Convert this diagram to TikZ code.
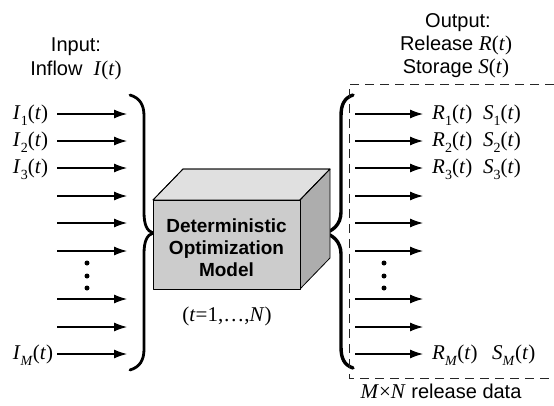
\documentclass[tikz,border=0pt]{standalone}
\usepackage{fontspec}
\setmainfont{Liberation Sans}
\newfontfamily\tnr{Liberation Serif}
\usetikzlibrary{arrows.meta}
% function labels such as I_1(t), R_M(t)
\newcommand\fnlab[2]{{\tnr\fontsize{21}{21}\selectfont\textit{#1}\raisebox{-0.3em}{\fontsize{14}{14}\selectfont #2}(\textit{t})}}
\newcommand\fnplain[1]{{\tnr\fontsize{21}{21}\selectfont\textit{#1}(\textit{t})}}
\begin{document}
\begin{tikzpicture}[x=1pt,y=-1pt,
  flow/.style={line width=1.1pt,-{Latex[length=13pt,width=9pt]}},
  bracepath/.style={line width=2.8pt,line cap=round},
  dashbox/.style={dash pattern=on 9pt off 6pt,line width=0.9pt,black!85},
  txt/.style={font=\fontsize{20}{24}\selectfont,inner sep=0pt},
  lab/.style={inner sep=0pt,anchor=base},
  dotmark/.style={fill=black,circle,inner sep=0pt,minimum size=5pt},
  face/.style={draw=black,line width=0.8pt,line join=round}]
\useasboundingbox (0,0) rectangle (554,405);

% headings
\node[txt,anchor=base] (inT1) at (76,51) {Input:};
\node[txt,anchor=base] (inT2) at (76,75) {Inflow\ \ \fnplain{I}};
\node[txt,anchor=base] (outT1) at (458,27) {Output:};
\node[txt,anchor=base] (outT2) at (456,50) {Release \fnplain{R}};
\node[txt,anchor=base] (outT3) at (456,73) {Storage \fnplain{S}};

% input and output arrows
\foreach \i/\y in {1/114,2/141,3/168,4/196,5/223,6/251,7/299,8/327,9/354}{
  \coordinate (ls\i) at (57,\y);
  \coordinate (le\i) at (127,\y);
  \draw[flow] (ls\i) -- (le\i);
  \coordinate (rs\i) at (355,\y);
  \coordinate (re\i) at (423,\y);
  \draw[flow] (rs\i) -- (re\i);
}

% input labels
\node[lab] (lI1) at (30.5,119) {\fnlab{I}{1}};
\node[lab] (lI2) at (30.5,146) {\fnlab{I}{2}};
\node[lab] (lI3) at (30.5,173) {\fnlab{I}{3}};
\node[lab] (lIM) at (33,359) {\fnlab{I}{\textit{M}}};

% output labels
\node[lab,anchor=base west] (lR1) at (432,119) {\fnlab{R}{1}};
\node[lab,anchor=base west] (lS1) at (483,119) {\fnlab{S}{1}};
\node[lab,anchor=base west] (lR2) at (432,146) {\fnlab{R}{2}};
\node[lab,anchor=base west] (lS2) at (483,146) {\fnlab{S}{2}};
\node[lab,anchor=base west] (lR3) at (432,173) {\fnlab{R}{3}};
\node[lab,anchor=base west] (lS3) at (483,173) {\fnlab{S}{3}};
\node[lab,anchor=base west] (lRM) at (432,359) {\fnlab{R}{\textit{M}}};
\node[lab,anchor=base west] (lSM) at (492,359) {\fnlab{S}{\textit{M}}};

% vertical ellipsis dots
\foreach \k/\y in {1/263,2/276,3/288}{
  \node[dotmark] (dl\k) at (87,\y) {};
  \node[dotmark] (dr\k) at (384,\y) {};
}

% left brace
\draw[bracepath] (130,95) .. controls (140,98) and (144,105) .. (144,116)
  -- (144,212) .. controls (144,225) and (147,231) .. (153,233)
  .. controls (147,235) and (144,241) .. (144,254)
  -- (144,349) .. controls (144,360) and (140,367) .. (130,370);

% right brace
\draw[bracepath,line width=3.4pt] (353,95) .. controls (344,98) and (341,105) .. (341,116)
  -- (341,212) .. controls (341,225) and (332,231) .. (325,233)
  .. controls (332,235) and (341,241) .. (341,254)
  -- (341,347) .. controls (341,358) and (344,365) .. (353,368);

% output dashed frame
\draw[dashbox] (554,84) -- (349,84) -- (349,378) -- (554,378);

% the model block
\fill[face,fill=black!12] (153,200) -- (183,169) -- (330,169) -- (300,200) -- cycle;
\draw[face,fill=black!32] (300,200) -- (330,169) -- (330,258) -- (300,289) -- cycle;
\draw[face,fill=black!20] (153,200) rectangle (300,289);
\draw[face] (153,200) -- (183,169) -- (330,169) -- (300,200);
\node[inner sep=0pt,align=center,font=\fontsize{19}{22}\selectfont\bfseries] (model) at (226.5,248)
  {Deterministic\\Optimization\\Model};

\node[lab] (tN) at (227,321) {\tnr\fontsize{21}{21}\selectfont(\textit{t}=1,\dots,\textit{N})};
\node[lab,font=\fontsize{20}{24}\selectfont] (mn) at (441,398) {{\tnr\fontsize{21}{21}\selectfont\textit{M}×\textit{N}}\ release data};
\end{tikzpicture}
\end{document}
